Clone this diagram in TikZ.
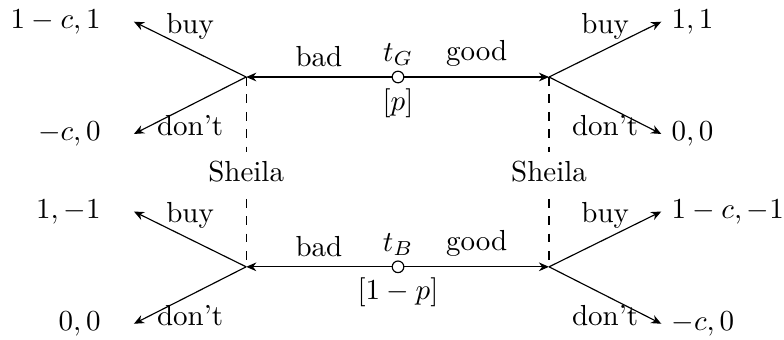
\documentclass[tikz,border=0pt]{standalone}
\usepackage{amsmath,amssymb}
\usepackage{tikz}
\usetikzlibrary{arrows.meta, positioning}

\begin{document}
\begin{tikzpicture}[
  chance/.style={draw, circle, fill=white, inner sep=0pt, minimum size=4pt},
  ar/.style={-{Stealth[length=3.5pt, width=3pt]}},
  info/.style={dashed},
  el/.style={inner sep=3.33pt},
  lb/.style={inner sep=1.5pt}
]
\useasboundingbox (-4.823,-3.175) rectangle (4.677,0.933);
% nature's moves
\node[chance, label={[lb]above:$t_G$}, label={[lb]below:$[p]$}] (tG) at (0,0) {};
\node[chance, label={[lb]above:$t_B$}, label={[lb]below:$[1-p]$}] (tB) at (0,-2.30) {};
\coordinate (gL) at (-1.84,0);
\coordinate (gR) at (1.83,0);
\coordinate (bL) at (-1.84,-2.30);
\coordinate (bR) at (1.83,-2.30);
% ends of Sheila's moves
\coordinate (gLbuy) at (-3.20,0.67);
\coordinate (gLno) at (-3.20,-0.69);
\coordinate (gRbuy) at (3.19,0.67);
\coordinate (gRno) at (3.19,-0.69);
\coordinate (bLbuy) at (-3.20,-1.63);
\coordinate (bLno) at (-3.20,-2.99);
\coordinate (bRbuy) at (3.19,-1.63);
\coordinate (bRno) at (3.19,-2.99);
% payoffs
\node[el, left=2.8mm of gLbuy] (pgLbuy) {$1-c,1$};
\node[el, left=2.8mm of gLno] (pgLno) {$-c,0$};
\node[el, right=0mm of gRbuy] (pgRbuy) {$1,1$};
\node[el, right=0mm of gRno] (pgRno) {$0,0$};
\node[el, left=2.8mm of bLbuy] (pbLbuy) {$1,-1$};
\node[el, left=2.8mm of bLno] (pbLno) {$0,0$};
\node[el, right=0mm of bRbuy] (pbRbuy) {$1-c,-1$};
\node[el, right=0mm of bRno] (pbRno) {$-c,0$};
\draw[ar] (tG) -- node[el, above]{bad} (gL);
\draw[ar] (tG) -- node[el, above]{good} (gR);
\draw[ar] (tB) -- node[el, above]{bad} (bL);
\draw[ar] (tB) -- node[el, above]{good} (bR);
\draw[ar] (gL) -- node[el, above]{buy} (gLbuy);
\draw[ar] (gL) -- node[el, below]{don't} (gLno);
\draw[ar] (gR) -- node[el, above]{buy} (gRbuy);
\draw[ar] (gR) -- node[el, below]{don't} (gRno);
\draw[ar] (bL) -- node[el, above]{buy} (bLbuy);
\draw[ar] (bL) -- node[el, below]{don't} (bLno);
\draw[ar] (bR) -- node[el, above]{buy} (bRbuy);
\draw[ar] (bR) -- node[el, below]{don't} (bRno);
% information sets
\draw[info] (gL) -- node[el, fill=white]{Sheila} (bL);
\draw[info] (gR) -- node[el, fill=white]{Sheila} (bR);
\end{tikzpicture}
\end{document}
